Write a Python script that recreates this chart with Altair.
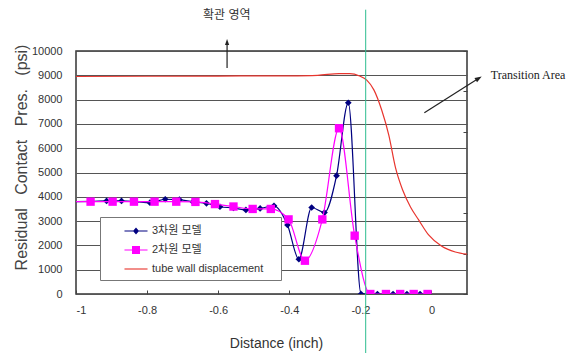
import altair as alt
import pandas as pd

# 3-D model: residual contact pressure vs. distance
dist_3d = [-1.04, -0.956, -0.914, -0.872, -0.832, -0.792, -0.749, -0.709, -0.671,
           -0.633, -0.595, -0.557, -0.522, -0.482, -0.443, -0.405, -0.373, -0.337,
           -0.301, -0.267, -0.234, -0.198, -0.175, -0.152, -0.108, -0.069, -0.032]
pres_3d = [3800, 3810, 3830, 3830, 3800, 3760, 3900, 3880, 3790,
           3730, 3590, 3540, 3460, 3520, 3630, 2840, 1430, 3560,
           3350, 4870, 7870, 0, 0, 0, 0, 0, 0]

# 2-D model
dist_2d = [-1.02, -0.959, -0.897, -0.837, -0.779, -0.718, -0.664, -0.609, -0.557,
           -0.503, -0.452, -0.402, -0.356, -0.307, -0.260, -0.216, -0.172, -0.128,
           -0.088, -0.050, -0.011]
pres_2d = [3800, 3800, 3800, 3800, 3800, 3800, 3790, 3700, 3600,
           3500, 3500, 3070, 1370, 3070, 6820, 2400, 0, 0,
           0, 0, 0]

# tube wall displacement profile, drawn on the pressure scale
dist_wall = [-1.0, -0.8, -0.6, -0.4, -0.32, -0.26, -0.23, -0.202, -0.182, -0.162,
             -0.140, -0.120, -0.101, -0.081, -0.059, -0.036, -0.008, 0.028, 0.067, 0.1]
pres_wall = [8950, 8960, 8970, 8980, 9000, 9070, 9070, 8970, 8800, 8400,
             7570, 6540, 5190, 4280, 3580, 3050, 2430, 1975, 1730, 1640]

series_names = ["3차원 모델", "2차원 모델", "tube wall displacement"]
x_ticks = [-1, -0.8, -0.6, -0.4, -0.2, 0]
y_ticks = [0, 1000, 2000, 3000, 4000, 5000, 6000, 7000, 8000, 9000, 10000]
right_ticks = [0, 1, 2, 3, 4, 5, 6]

# transition boundary and annotation anchors (data units)
transition_x = -0.185
expand_label = "확관 영역"
transition_label = "Transition Area"
y_title = "Residual\u00a0\u00a0 Contact\u00a0\u00a0 Pres.\u00a0\u00a0 (psi)"

# ---- styling ----
FONT = "Liberation Sans, Noto Sans CJK KR, sans-serif"
C3, C2, CW = "#000080", "#FF00FF", "#E8352E"
series_colors = [C3, C2, CW]
GREEN = "#2DBD8F"
INK = "#222222"

# legend symbols: short line plus the series marker
legend_paths = [
    "M-1.44,-0.075H1.44V0.075H-1.44Z M0,-0.44L0.375,0L0,0.44L-0.375,0Z",
    "M-1.44,-0.075H1.44V0.075H-1.44Z M-0.5,-0.5H0.5V0.5H-0.5Z",
    "M-1.44,-0.07H1.44V0.07H-1.44Z",
]
arrow_head = "M0,-1L0.7,1L-0.7,1Z"

df3 = pd.DataFrame({"distance": dist_3d, "pressure": pres_3d, "series": series_names[0]})
df2 = pd.DataFrame({"distance": dist_2d, "pressure": pres_2d, "series": series_names[1]})
dfw = pd.DataFrame({"distance": dist_wall, "pressure": pres_wall, "series": series_names[2]})
df_all = pd.concat([df3, df2, dfw], ignore_index=True)

x_scale = alt.Scale(domain=[-1, 0.1], nice=False, zero=False)
y_scale = alt.Scale(domain=[0, 10000], nice=False, zero=False)

x_axis = alt.Axis(values=x_ticks, labelExpr="'' + datum.value", domain=False, grid=False,
                  ticks=True, tickSize=4, tickColor="#444", tickWidth=1, offset=-4,
                  labelPadding=10, labelFontSize=11, labelColor="#333",
                  titleFontSize=14, titleFontWeight="normal", titleColor="#333",
                  titlePadding=21, titleX=200)
y_axis = alt.Axis(values=y_ticks, format="d", domain=False, ticks=False, grid=True,
                  gridColor="#555555", gridWidth=1.1,
                  labelPadding=14, labelFontSize=11, labelColor="#333",
                  titleFontSize=16, titleFontWeight="normal", titleColor="#444",
                  titleAngle=270, titleAlign="center", titleBaseline="middle",
                  titleX=-55, titleY=106)


def X(field="distance"):
    return alt.X(f"{field}:Q", scale=x_scale, axis=x_axis, title="Distance (inch)")


def Y(field="pressure"):
    return alt.Y(f"{field}:Q", scale=y_scale, axis=y_axis, title=y_title)


line3 = alt.Chart(df3).mark_line(color=C3, strokeWidth=1.2, interpolate="monotone", clip=True).encode(x=X(), y=Y())
pts3 = alt.Chart(df3).mark_point(shape="diamond", filled=True, opacity=1, size=45, color=C3, clip=True).encode(x=X(), y=Y())
line2 = alt.Chart(df2).mark_line(color=C2, strokeWidth=1.2, interpolate="monotone", clip=True).encode(x=X(), y=Y())
pts2 = alt.Chart(df2).mark_point(shape="square", filled=True, opacity=1, size=70, color=C2, clip=True).encode(x=X(), y=Y())
linew = alt.Chart(dfw).mark_line(color=CW, strokeWidth=1.2, interpolate="monotone", clip=True).encode(x=X(), y=Y())

legend = alt.Legend(title="\u00a0", titleOrient="right", titlePadding=12, titleFontSize=11,
                    orient="none", legendX=24, legendY=166,
                    fillColor="white", strokeColor="#777777", padding=6,
                    symbolOffset=22, symbolSize=256, symbolStrokeWidth=0,
                    labelOffset=8, rowPadding=6, labelFont=FONT, labelFontSize=11,
                    labelColor="#333")

legend_layer = alt.Chart(df_all).transform_filter("datum.pressure < 0").mark_point(
    filled=True, opacity=1, size=256
).encode(
    x=X(), y=Y(),
    color=alt.Color("series:N", scale=alt.Scale(domain=series_names, range=series_colors), legend=legend),
    shape=alt.Shape("series:N", scale=alt.Scale(domain=series_names, range=legend_paths), legend=legend),
)

# vertical boundary line through the whole figure
boundary = alt.Chart(pd.DataFrame({"distance": [transition_x], "pressure": [11700], "pressure2": [-2450]})).mark_rule(
    color=GREEN, strokeWidth=1
).encode(x=X(), y=Y(), y2="pressure2:Q")

# arrows
arrows_df = pd.DataFrame({
    "distance": [-0.575, -0.020], "pressure": [9300, 7460],
    "distance2": [-0.575, 0.133], "pressure2": [10370, 8876],
})
arrow_lines = alt.Chart(arrows_df).mark_rule(color=INK, strokeWidth=1.2).encode(
    x=X(), y=Y(), x2="distance2:Q", y2="pressure2:Q")
head_up = alt.Chart(pd.DataFrame({"distance": [-0.575], "pressure": [10370]})).mark_point(
    shape=arrow_head, filled=True, opacity=1, size=36, color=INK, angle=0).encode(x=X(), y=Y())
head_diag = alt.Chart(pd.DataFrame({"distance": [0.133], "pressure": [8876]})).mark_point(
    shape=arrow_head, filled=True, opacity=1, size=49, color=INK, angle=58).encode(x=X(), y=Y())

txt_expand = alt.Chart(pd.DataFrame({"distance": [-0.576], "pressure": [11480], "label": [expand_label]})).mark_text(
    font=FONT, fontSize=12, color="#333", align="center", baseline="middle").encode(x=X(), y=Y(), text="label:N")
txt_trans = alt.Chart(pd.DataFrame({"distance": [0.167], "pressure": [9012], "label": [transition_label]})).mark_text(
    font="Liberation Serif", fontSize=12, color="#222", align="left", baseline="middle").encode(x=X(), y=Y(), text="label:N")

main = alt.layer(line3, pts3, line2, pts2, linew, legend_layer, boundary,
                 arrow_lines, head_up, head_diag, txt_expand, txt_trans)

# secondary (unlabelled) axis on the right with inward ticks
right_axis = alt.Chart(dfw).transform_calculate(rt="0").mark_point(opacity=0).encode(
    x=X(),
    y=alt.Y("rt:Q", scale=alt.Scale(domain=[0, 6], nice=False),
            axis=alt.Axis(orient="right", values=right_ticks, labels=False, domain=False,
                          grid=False, ticks=True, tickSize=4, tickColor="#444", offset=-4, title=None)),
)

chart = alt.layer(main, right_axis).resolve_scale(y="independent").properties(
    width=391, height=243,
    padding={"left": 76, "top": 51, "right": 105, "bottom": 59},
    autosize=alt.AutoSizeParams(type="none"),
).configure(background="white", font=FONT).configure_view(stroke="#333", strokeWidth=1.5)

chart.save("out.html", embed_options={"renderer": "svg", "actions": False})
